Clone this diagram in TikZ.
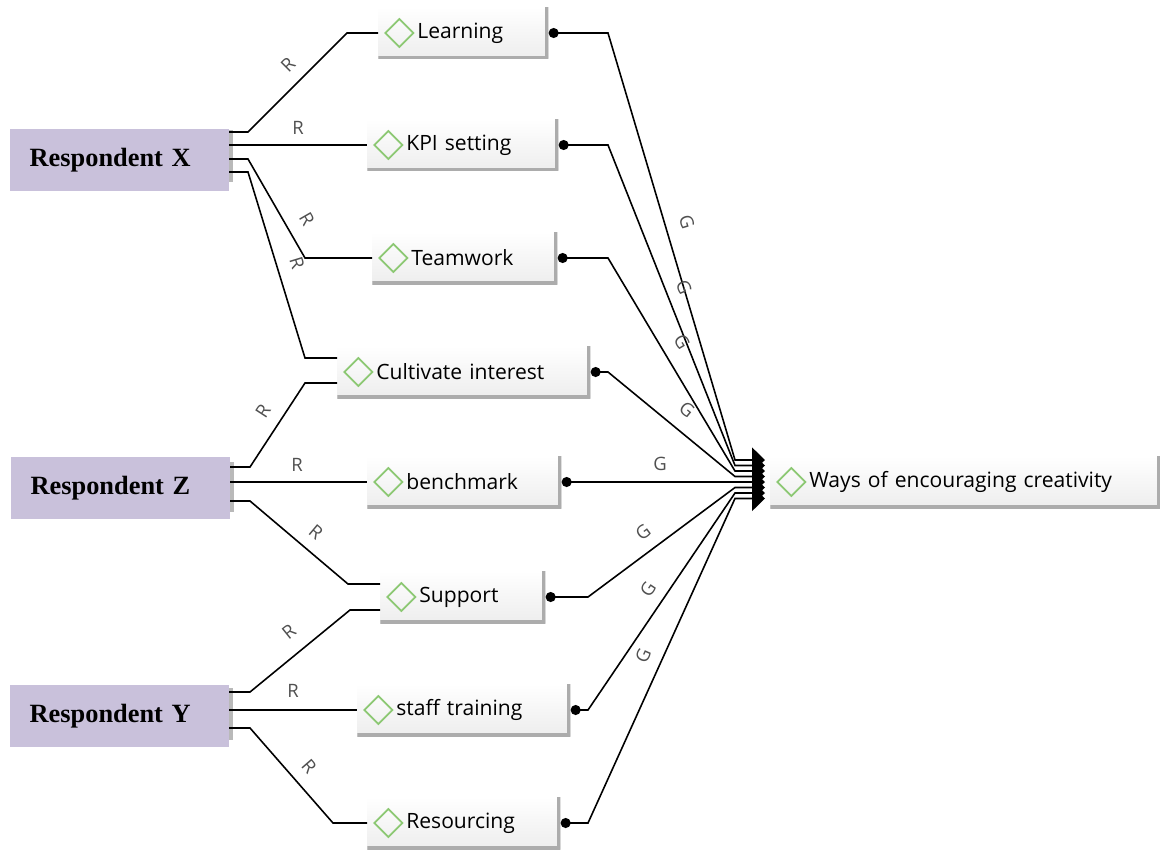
\documentclass[tikz,border=0pt]{standalone}
\usepackage{fontspec}
\newfontfamily\uifont{Open Sans}
\newfontfamily\respfont{Liberation Serif}
\usetikzlibrary{arrows.meta}
\definecolor{resplilac}{RGB}{201,193,219}
\definecolor{diamgreen}{RGB}{140,200,115}
\definecolor{labgray}{RGB}{80,80,80}
\tikzset{
  resp/.style={fill=resplilac, anchor=east, minimum height=1.24cm, text width=3.58cm,
    inner xsep=0.4cm, align=left, font=\respfont\bfseries\fontsize{15}{18}\selectfont},
  concept/.style={anchor=west, text width=#1, inner xsep=0pt, minimum height=1.04cm,
    align=left, top color=white, bottom color=gray!14,
    font=\uifont\fontsize{12}{14}\selectfont,
    execute at begin node={\hspace*{0.78cm}},
    path picture={
      \draw[diamgreen, line width=1pt] ([xshift=0.14cm]path picture bounding box.west)
        -- ++(0.28cm,0.28cm) -- ++(0.28cm,-0.28cm) -- ++(-0.28cm,-0.28cm) -- cycle;
      \draw[gray!65, line width=3.5pt] (path picture bounding box.south west)
        -- (path picture bounding box.south east) -- (path picture bounding box.north east);
    }},
  rline/.style={line width=0.9pt},
  gline/.style={line width=0.9pt, {Circle[length=0.2cm]}-{Triangle[length=0.26cm,width=0.5cm]},
    shorten >=0.1cm},
  lab/.style={font=\uifont\fontsize{10.5}{12}\selectfont, text=labgray, inner sep=0pt},
  stubbar/.style={gray!55, line width=0.07cm}
}
\begin{document}
\begin{tikzpicture}[x=0.02cm,y=-0.02cm]
	\useasboundingbox (0,0) rectangle (1160,849);
	\node[resp] (rx) at (229,160) {Respondent X};
	\node[resp] (rz) at (230,488) {Respondent Z};
	\node[resp] (ry) at (229,716) {Respondent Y};
	\draw[stubbar] (231,130) -- (231,182);
	\draw[stubbar] (232,462) -- (232,512);
	\draw[stubbar] (231,688) -- (231,740);
	\node[concept=3.4cm] (learn) at (378,33) {Learning};
	\node[concept=3.82cm] (kpi) at (367,145) {KPI setting};
	\node[concept=3.7cm] (team) at (372,258) {Teamwork};
	\node[concept=5.06cm] (cult) at (337,372) {Cultivate interest};
	\node[concept=3.88cm] (bench) at (367,482) {benchmark};
	\node[concept=3.3cm] (supp) at (380,597) {Support};
	\node[concept=4.26cm] (staff) at (357,710) {staff training};
	\node[concept=3.86cm] (resrc) at (367,823) {Resourcing};
	\node[concept=7.8cm] (goal) at (770,482) {Ways of encouraging creativity};
	\draw[rline] (rx.east |- 0,132) -- (248,132) -- (347,33) -- (learn.west);
	\draw[rline] (rx.east |- 0,145) -- (kpi.west);
	\draw[rline] (rx.east |- 0,159) -- (248,159) -- (305,258) -- (team.west);
	\draw[rline] (rx.east |- 0,172) -- (248,172) -- (305,358) -- (cult.west |- 0,358);
	\draw[rline] (rz.east |- 0,467) -- (250,467) -- (305,383) -- (cult.west |- 0,383);
	\draw[rline] (rz.east |- 0,482) -- (bench.west);
	\draw[rline] (rz.east |- 0,501) -- (250,501) -- (348,584) -- (supp.west |- 0,584);
	\draw[rline] (ry.east |- 0,692) -- (250,692) -- (350,610) -- (supp.west |- 0,610);
	\draw[rline] (ry.east |- 0,710) -- (staff.west);
	\draw[rline] (ry.east |- 0,728) -- (250,728) -- (333,823) -- (resrc.west);
	\coordinate (in1) at (735,460);
	\coordinate (in2) at (735,465.5);
	\coordinate (in3) at (735,471);
	\coordinate (in4) at (735,476.5);
	\coordinate (in5) at (735,482);
	\coordinate (in6) at (735,487.5);
	\coordinate (in7) at (735,493);
	\coordinate (in8) at (735,498.5);
	\draw[gline] (learn.east) -- (learn.east -| 608,0) -- (in1) -- (in1 -| goal.west);
	\draw[gline] (kpi.east) -- (kpi.east -| 608,0) -- (in2) -- (in2 -| goal.west);
	\draw[gline] (team.east) -- (team.east -| 608,0) -- (in3) -- (in3 -| goal.west);
	\draw[gline] (cult.east) -- (cult.east -| 608,0) -- (in4) -- (in4 -| goal.west);
	\draw[gline] (bench.east) -- (in5) -- (in5 -| goal.west);
	\draw[gline] (supp.east) -- (supp.east -| 588,0) -- (in6) -- (in6 -| goal.west);
	\draw[gline] (staff.east) -- (staff.east -| 588,0) -- (in7) -- (in7 -| goal.west);
	\draw[gline] (resrc.east) -- (resrc.east -| 588,0) -- (in8) -- (in8 -| goal.west);
	\node[lab, rotate=45] (rl1) at (288,65) {R};
	\node[lab] (rl2) at (298,128) {R};
	\node[lab, rotate=-60] (rl3) at (307,219) {R};
	\node[lab, rotate=-73] (rl4) at (297,263) {R};
	\node[lab, rotate=57] (rl5) at (263,411) {R};
	\node[lab] (rl6) at (297,465) {R};
	\node[lab, rotate=-40] (rl7) at (316,532) {R};
	\node[lab, rotate=39] (rl8) at (289,632) {R};
	\node[lab] (rl9) at (293,691) {R};
	\node[lab, rotate=-49] (rl10) at (309,766) {R};
	\node[lab, rotate=-73] (gl1) at (687,222) {G};
	\node[lab, rotate=-68] (gl2) at (684,287) {G};
	\node[lab, rotate=-59] (gl3) at (682,342) {G};
	\node[lab, rotate=-39] (gl4) at (687,410) {G};
	\node[lab] (gl5) at (660,464) {G};
	\node[lab, rotate=37] (gl6) at (643,532) {G};
	\node[lab, rotate=56] (gl7) at (648,589) {G};
	\node[lab, rotate=66] (gl8) at (643,656) {G};
\end{tikzpicture}
\end{document}
